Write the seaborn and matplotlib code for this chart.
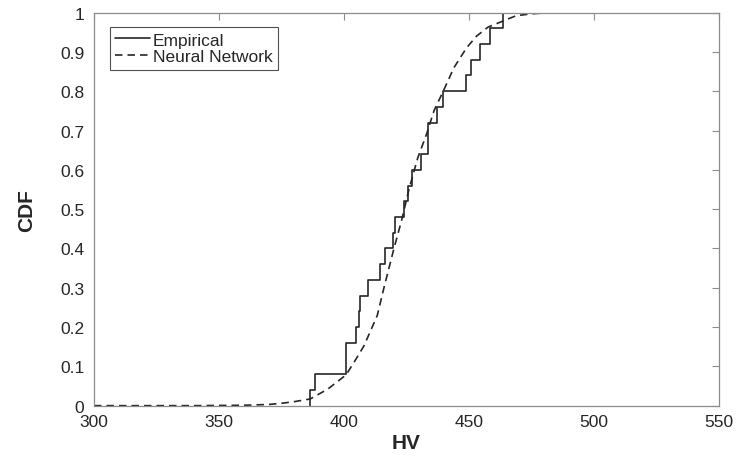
import numpy as np
import pandas as pd
import matplotlib
matplotlib.use('Agg')
import matplotlib.pyplot as plt
import seaborn as sns

hv_samples = [386.5, 388.5, 400.8, 400.8, 404.7, 406.0, 406.4, 409.6, 414.6,
              416.6, 419.6, 420.6, 424.1, 425.6, 427.4, 430.7, 433.8, 433.8,
              437.3, 439.7, 448.7, 451.0, 454.5, 458.5, 463.8]

# neural network CDF
nn_hv = [300, 340, 360, 370, 375, 380, 386.5, 393.5, 400.8, 404, 408, 413.3,
         416, 420, 423, 426, 429.5, 433, 436, 439.7, 444, 449, 453, 457.6,
         463.8, 468.8, 475, 480, 490, 500, 550]
nn_cdf = [0.0, 0.0, 0.001, 0.003, 0.006, 0.010, 0.017, 0.042, 0.078, 0.11,
          0.152, 0.229, 0.30, 0.40, 0.47, 0.55, 0.63, 0.69, 0.75, 0.80, 0.86,
          0.91, 0.94, 0.963, 0.979, 0.992, 0.997, 0.999, 1.0, 1.0, 1.0]

sns.set_style('white')
plt.rcParams['font.family'] = ['Liberation Sans Narrow', 'Liberation Sans', 'DejaVu Sans']

fig = plt.figure(figsize=(7.37, 4.60), dpi=100)
ax = fig.add_axes([0.1275, 0.116, 0.8480, 0.8544])

sns.ecdfplot(x=hv_samples, ax=ax, color='#262626', linewidth=1.2, label='Empirical')
sns.lineplot(x=nn_hv, y=nn_cdf, ax=ax, color='#262626', linewidth=1.2,
             linestyle=(0, (4.5, 3)), label='Neural Network')

ax.set_xlim(300, 550)
ax.set_ylim(0, 1)
ax.set_xticks(np.arange(300, 551, 50))
ax.set_yticks(np.arange(0, 1.01, 0.1))
ax.set_yticklabels(['0'] + [f'{v:.1f}' for v in np.arange(0.1, 0.95, 0.1)] + ['1'])

for s in ax.spines.values():
    s.set_color('#8c8c8c')
    s.set_linewidth(0.9)
ax.tick_params(direction='in', length=5, width=0.8, color='#8c8c8c',
               top=True, right=True, labelsize=12.5, labelcolor='#262626')
ax.tick_params(axis='x', pad=6)
ax.tick_params(axis='y', pad=7)

ax.set_xlabel('HV', fontsize=15, fontweight='bold', color='#262626', labelpad=3)
ax.set_ylabel('CDF', fontsize=15, fontweight='bold', color='#262626', labelpad=17)

leg = ax.legend(loc='upper left', fontsize=12.5, frameon=True, fancybox=False,
                handlelength=2.0, handletextpad=0.15, borderpad=0.3,
                labelspacing=0.1, bbox_to_anchor=(0.012, 0.985))
leg.get_frame().set_edgecolor('#262626')
leg.get_frame().set_linewidth(0.8)

fig.savefig('out.png', dpi=100)
